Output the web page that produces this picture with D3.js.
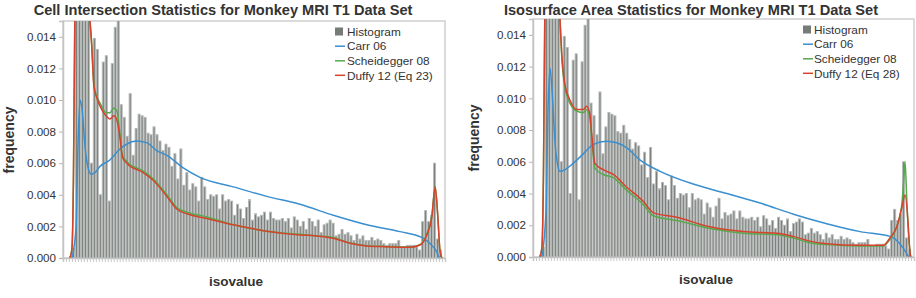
<!DOCTYPE html>
<html><head><meta charset="utf-8">
<script src="https://cdn.jsdelivr.net/npm/d3@7"></script>
<style>
body{margin:0;background:#fff}
svg{display:block}
text{font-family:"Liberation Sans",Arial,Helvetica,sans-serif}
</style>
</head><body>
<svg id="c" width="916" height="298"></svg>
<script>
// ---- data (bins of isovalue, 128 bins) ----
const binCount = 128;
const histogram = [
 0,0,0.0001,0.0006,0.019,0.02,0.019,0.018,0.016,0.0060,
 0.0139,0.0132,0.0040,0.0124,0.0128,0.0036,0.0123,0.0146,0.0160,0.0097,
 0.0089,0.0077,0.0104,0.0065,0.0082,0.0091,0.0090,0.0089,0.0079,0.0078,
 0.0083,0.0078,0.0074,0.0068,0.0072,0.0070,0.0058,0.0066,0.0050,0.0069,
 0.0046,0.0054,0.0043,0.0047,0.0045,0.0036,0.0051,0.0045,0.0037,0.0040,
 0.0039,0.0040,0.0031,0.0040,0.0036,0.0037,0.0036,0.0027,0.0034,0.0031,
 0.0025,0.0032,0.0037,0.0024,0.0028,0.0026,0.0027,0.0029,0.0024,0.0029,
 0.0025,0.0024,0.0024,0.0025,0.0023,0.0025,0.0019,0.0026,0.0024,0.0020,
 0.0023,0.0018,0.0025,0.0023,0.0020,0.0024,0.0016,0.0021,0.0022,0.0024,
 0.0022,0.0014,0.0015,0.0018,0.0015,0.0016,0.0014,0.0011,0.0015,0.0012,
 0.0014,0.0011,0.0011,0.0013,0.0011,0.0012,0.0011,0.0009,0.0008,0.0009,
 0.0009,0.0009,0.0011,0.0007,0.0007,0.0008,0.0008,0.0008,0.0007,0.0005,
 0.0023,0.0030,0.0023,0.0027,0.0060,0.0012,0.0005,0
];
const yTickValues = [0,0.002,0.004,0.006,0.008,0.010,0.012,0.014];

// curves: [bin position, frequency]
const carrCell = [[3.0,0],[4.4,0.002],[5.0,0.007],[5.7,0.0100],[6.4,0.0094],[7.4,0.0070],[8.4,0.0057],[9.4,0.0053],[10.7,0.0054],[12.4,0.0058],[15.7,0.0062],[19.1,0.0069],[21.3,0.0072],[24.7,0.0074],[28.0,0.0073],[31.4,0.0068],[34.8,0.0065],[40.3,0.0057],[45.9,0.0051],[57.1,0.0045],[68.3,0.0039],[79.4,0.0034],[90.6,0.0027],[101.8,0.0021],[112.9,0.00167],[120.2,0.0013],[123.0,0.0009],[125.2,0.0004],[126.1,0]];
const scheideggerCell = [[2.3,0],[3.0,0.0006],[3.5,0.005],[4.0,0.016],[4.7,0.022],[5.7,0.026],[7.4,0.022],[8.7,0.016],[9.6,0.0136],[10.4,0.0109],[11.4,0.0102],[12.7,0.0097],[14.4,0.0092],[15.7,0.0092],[17.1,0.0095],[18.1,0.0093],[19.1,0.0078],[19.9,0.0065],[21.4,0.0061],[26.9,0.0055],[30.3,0.0050],[34.8,0.0040],[38.1,0.0032],[41.5,0.0029],[48.2,0.0026],[57.1,0.0021],[68.3,0.0017],[79.4,0.0015],[85.0,0.0014],[90.5,0.0013],[96.2,0.00095],[101.8,0.00078],[107.2,0.00073],[116.3,0.00069],[119.6,0.00084],[121.9,0.0015],[123.6,0.0027],[124.7,0.0045],[125.6,0.0026],[126.3,0.0005],[127,0]];
const duffyCell = [[2.3,0],[3.0,0.0006],[3.5,0.005],[4.0,0.016],[4.7,0.022],[5.7,0.026],[7.4,0.022],[8.7,0.016],[9.6,0.0135],[10.4,0.0108],[11.4,0.0101],[12.7,0.0095],[14.4,0.0090],[15.7,0.0088],[17.1,0.0090],[18.1,0.0087],[19.1,0.0076],[19.9,0.0064],[21.4,0.0060],[26.9,0.0054],[30.3,0.0049],[34.8,0.0039],[38.1,0.0031],[41.5,0.0028],[48.2,0.0025],[57.1,0.0021],[68.3,0.0017],[79.4,0.00146],[85.0,0.0014],[90.5,0.00125],[96.2,0.00093],[101.8,0.00076],[107.2,0.00072],[116.3,0.00068],[119.6,0.00082],[121.9,0.00146],[123.6,0.0026],[124.7,0.0045],[125.6,0.0026],[126.3,0.0005],[127,0]];

const carrArea = [[3.0,0],[4.4,0.003],[5.0,0.009],[5.7,0.0119],[6.4,0.0105],[7.4,0.0072],[8.4,0.0057],[9.0,0.0054],[10.7,0.0055],[13.5,0.0059],[16.9,0.0065],[20.3,0.0071],[24.7,0.0073],[28.1,0.0072],[31.4,0.0069],[36.0,0.0061],[42.7,0.0054],[53.8,0.0046],[65.1,0.0040],[76.3,0.0034],[87.5,0.0027],[98.7,0.0021],[109.9,0.0016],[120.0,0.0013],[123.4,0.0008],[125.6,0.0002],[126.2,0]];
const scheideggerArea = [[2.3,0],[3.0,0.0006],[3.5,0.005],[4.0,0.016],[4.7,0.022],[5.7,0.026],[7.4,0.022],[9.07,0.015],[9.6,0.0128],[10.7,0.0107],[12.4,0.0097],[14.7,0.0092],[16.9,0.0091],[18.0,0.0093],[19.1,0.0088],[19.7,0.0076],[20.8,0.0056],[23.6,0.0052],[27.0,0.0050],[31.5,0.0042],[37.1,0.0033],[40.4,0.0026],[48.3,0.0023],[59.5,0.0018],[70.6,0.0015],[81.9,0.0014],[87.4,0.0012],[93.0,0.0009],[98.7,0.00078],[109.9,0.0007],[117.7,0.0007],[119.9,0.0011],[122.2,0.0019],[123.9,0.0033],[124.6,0.0050],[125.0,0.0060],[125.6,0.0035],[126.3,0.0010],[126.8,0.0002]];
const duffyArea = [[2.3,0],[3.0,0.0006],[3.5,0.005],[4.0,0.016],[4.7,0.022],[5.7,0.026],[7.4,0.022],[9.07,0.015],[9.6,0.0130],[10.7,0.0109],[12.4,0.0099],[14.7,0.0093],[16.9,0.0093],[18.0,0.0095],[19.1,0.0090],[19.7,0.0078],[20.8,0.0059],[23.6,0.0055],[27.0,0.0052],[31.5,0.0044],[37.1,0.0035],[40.4,0.0028],[48.3,0.0025],[59.5,0.0019],[70.6,0.0016],[81.9,0.0015],[87.4,0.0013],[93.0,0.0010],[98.7,0.00084],[109.9,0.00074],[117.7,0.00074],[119.9,0.0012],[122.2,0.0019],[123.9,0.0031],[125.0,0.0039],[126.1,0.0019],[126.6,0.0004],[127,0]];

const titles = ["Cell Intersection Statistics for Monkey MRI T1 Data Set","Isosurface Area Statistics for Monkey MRI T1 Data Set"];
const legendLabels = [["Histogram","Carr 06","Scheidegger 08","Duffy 12 (Eq 23)"],["Histogram","Carr 06","Scheidegger 08","Duffy 12 (Eq 28)"]];
const xLabel = "isovalue";
const yLabel = "frequency";

// ---- styles ----
const colors = {hist:"#767b78", histEdge:"#b6bab8", carr:"#3a8fcf", sch:"#58a84e", duffy:"#d6432d", text:"#333333", frame:"#cfcfcf"};

const panels = [
 {x0:63,x1:445,yTop:21,yZero:258,titleX:223,titleY:15,xlabX:236,xlabY:286,ylabX:14,ylabY:140,legX:335,legTextX:347,
  title:titles[0],legend:legendLabels[0],carr:carrCell,sch:scheideggerCell,duffy:duffyCell},
 {x0:533,x1:914,yTop:19,yZero:257,titleX:691,titleY:15,xlabX:706,xlabY:284,ylabX:479,ylabY:138,legX:803,legTextX:814,
  title:titles[1],legend:legendLabels[1],carr:carrArea,sch:scheideggerArea,duffy:duffyArea}
];

const svg = d3.select("#c");

panels.forEach((p,pi)=>{
  const x = d3.scaleLinear().domain([0,binCount]).range([p.x0,p.x1]);
  const y = d3.scaleLinear().domain([0,0.015]).range([p.yZero,p.yTop]);
  const g = svg.append("g");
  const clipId = "clip"+pi;
  svg.append("clipPath").attr("id",clipId).append("rect")
    .attr("x",p.x0).attr("y",p.yTop).attr("width",p.x1-p.x0).attr("height",p.yZero-p.yTop);

  // frame
  g.append("rect").attr("x",p.x0).attr("y",p.yTop).attr("width",p.x1-p.x0).attr("height",p.yZero-p.yTop)
    .attr("fill","none").attr("stroke",colors.frame).attr("stroke-width",1.5);

  // bars
  const bw = x(1)-x(0);
  const plot = g.append("g").attr("clip-path",`url(#${clipId})`);
  plot.selectAll("rect.bar").data(histogram).join("rect").attr("class","bar")
    .attr("x",(d,i)=>x(i)+bw*0.17).attr("width",bw*0.66)
    .attr("y",d=>y(d)).attr("height",d=>Math.max(0,y(0)-y(d)))
    .attr("fill",colors.hist).attr("stroke",d=>d>0?colors.histEdge:"none").attr("stroke-width",bw*0.34);

  const line = d3.line().x(d=>x(d[0])).y(d=>y(d[1])).curve(d3.curveMonotoneX);
  [["carr",colors.carr],["sch",colors.sch],["duffy",colors.duffy]].forEach(([k,c])=>{
    plot.append("path").attr("d",line(p[k])).attr("fill","none").attr("stroke",c).attr("stroke-width",1.5);
  });

  // x axis: dense tick band
  const xAxis = d3.axisBottom(x).tickValues(d3.range(0,binCount+1)).tickSize(4).tickFormat("");
  const ax = g.append("g").attr("transform",`translate(0,${p.yZero})`).call(xAxis);
  ax.select(".domain").attr("stroke","#c4c4c4").attr("stroke-width",1.5);
  ax.selectAll(".tick line").attr("stroke","#c8c8c8");

  // y axis
  const yAxis = d3.axisLeft(y).tickValues(yTickValues).tickSize(4).tickPadding(3).tickFormat(d3.format(".3f"));
  const ay = g.append("g").attr("transform",`translate(${p.x0},0)`).call(yAxis);
  ay.select(".domain").attr("stroke","#c4c4c4").attr("stroke-width",1.5);
  ay.selectAll(".tick line").attr("stroke","#b8b8b8");
  ay.selectAll(".tick text").attr("fill",colors.text).style("font-size","11.6px").style("font-family","'Liberation Sans',Arial,sans-serif");

  // title
  g.append("text").attr("x",p.titleX).attr("y",p.titleY).attr("text-anchor","middle")
    .style("font-size","14.6px").style("font-weight","bold").attr("fill",colors.text).text(p.title);
  // x label
  g.append("text").attr("x",p.xlabX).attr("y",p.xlabY).attr("text-anchor","middle")
    .style("font-size","13.5px").style("font-weight","bold").attr("fill",colors.text).text(xLabel);
  // y label
  g.append("text").attr("transform",`translate(${p.ylabX},${p.ylabY}) rotate(-90)`).attr("text-anchor","middle")
    .style("font-size","14px").style("font-weight","bold").attr("fill",colors.text).text(yLabel);

  // legend
  const rows = [p.yTop+10.5, p.yTop+25.2, p.yTop+39.8, p.yTop+54.3];
  const leg = g.append("g");
  leg.append("rect").attr("x",p.legX).attr("y",rows[0]-4).attr("width",8).attr("height",8).attr("fill",colors.hist);
  [colors.carr,colors.sch,colors.duffy].forEach((c,i)=>{
    leg.append("line").attr("x1",p.legX).attr("x2",p.legX+10).attr("y1",rows[i+1]).attr("y2",rows[i+1])
      .attr("stroke",c).attr("stroke-width",1.5);
  });
  p.legend.forEach((t,i)=>{
    leg.append("text").attr("x",p.legTextX).attr("y",rows[i]+4.2).style("font-size","11.8px")
      .attr("fill",colors.text).text(t);
  });
});
</script>
</body></html>
